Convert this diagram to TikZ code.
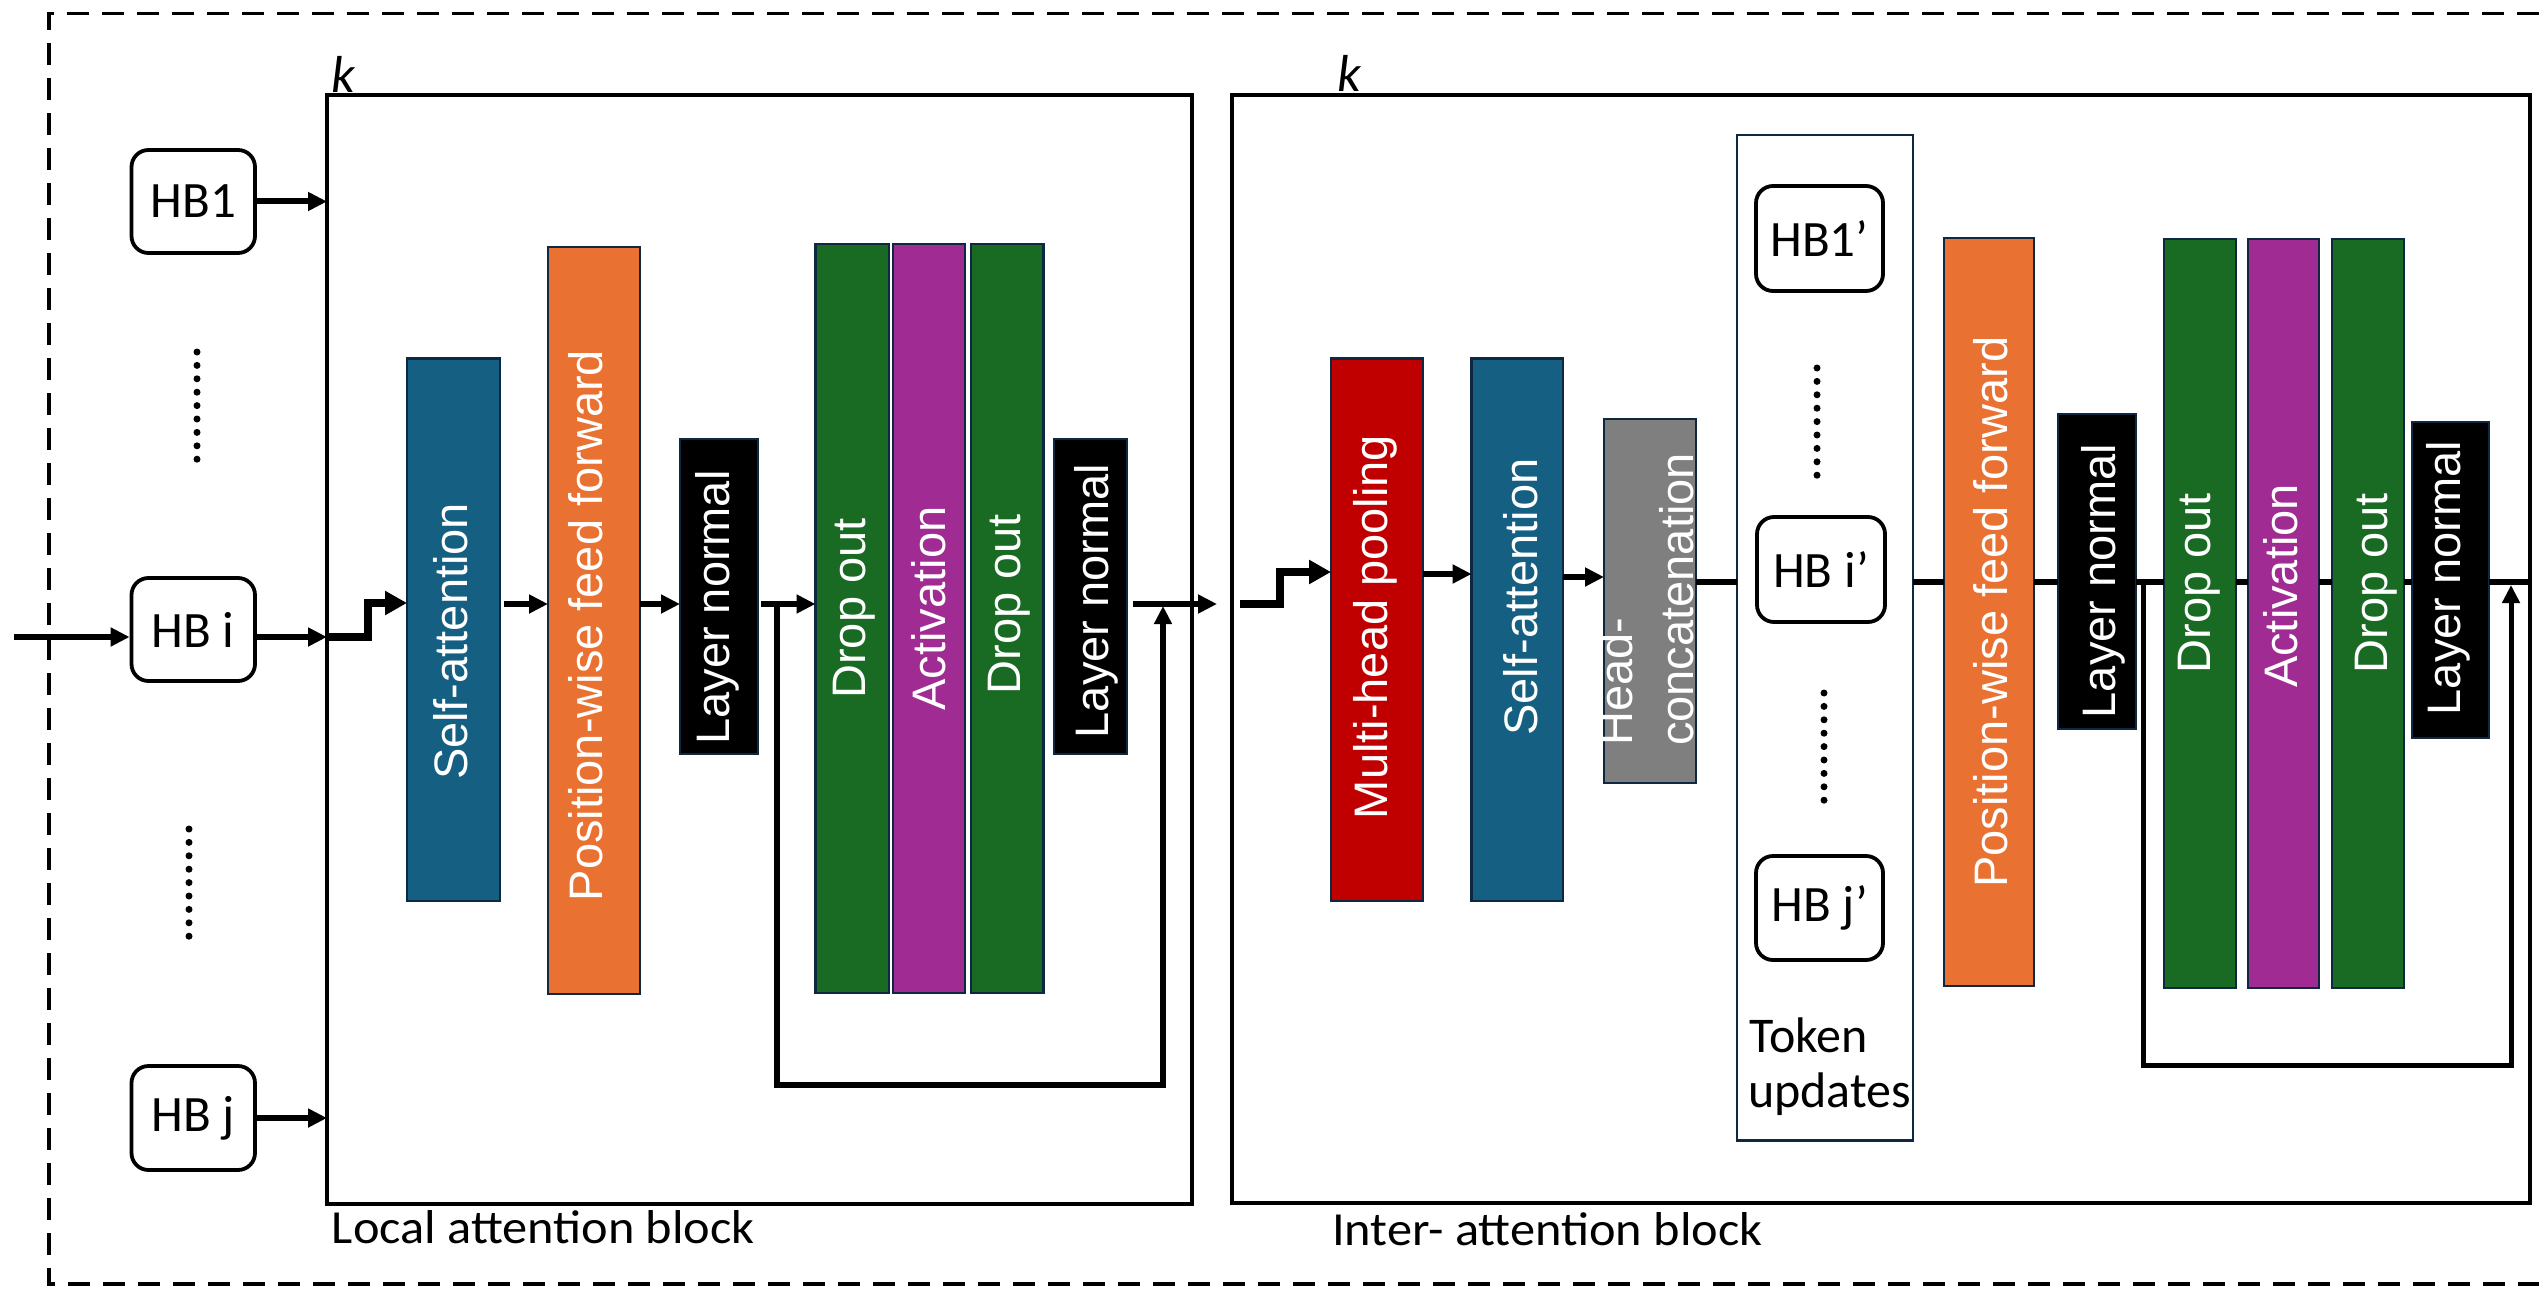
\documentclass[tikz,border=0pt]{standalone}
\usepackage{fontspec}
\usetikzlibrary{arrows.meta}
\newfontfamily\barfont{Liberation Sans}
\newfontfamily\calfont{Carlito}
\newfontfamily\calwide[FakeStretch=1.06]{Carlito}
\definecolor{cblue}{HTML}{156082}
\definecolor{corange}{HTML}{E97132}
\definecolor{cgreen}{HTML}{196B24}
\definecolor{cpurple}{HTML}{A02B93}
\definecolor{cred}{HTML}{C00000}
\definecolor{cgray}{HTML}{7F7F7F}
\definecolor{cnavy}{HTML}{0E2841}
\begin{document}
\begin{tikzpicture}[x=1pt,y=-1pt,
  bar/.style={draw=cnavy, line width=2.5pt, inner sep=0pt, outer sep=0pt},
  bartext/.style={font=\barfont\fontsize{47}{56}\selectfont, text=white, rotate=90, anchor=base, inner sep=0pt},
  bartextw/.style={font=\barfont\fontsize{47}{56}\selectfont, text=white, rotate=90, anchor=base west, inner sep=0pt},
  hbbox/.style={draw=black, line width=3.8pt, rounded corners=17pt, fill=white, inner sep=0pt, font=\calfont\fontsize{51}{60}\selectfont},
  blockbox/.style={draw=black, line width=3.5pt, inner sep=0pt, outer sep=0pt},
  arr/.style={line width=6pt, -{Triangle[length=19pt,width=18pt]}},
  steparr/.style={line width=8.5pt, line join=miter, -{Triangle[length=22pt,width=23pt]}},
  loopline/.style={line width=5.8pt, line join=miter, -{Triangle[length=18pt,width=17pt]}},
  mainline/.style={line width=6pt},
  klabel/.style={font=\calfont\itshape\fontsize{52}{56}\selectfont, inner sep=0pt},
  blocklabel/.style={font=\calwide\fontsize{47.5}{52}\selectfont, anchor=base west, inner sep=0pt},
  toklabel/.style={font=\calfont\fontsize{50}{55}\selectfont, anchor=base west, inner sep=0pt},
]
\useasboundingbox (0,0) rectangle (2539,1289);

% outer dashed frame
\draw[line width=3.2pt, dash pattern=on 22pt off 13pt] (2539,13.4) -- (49,13.4) -- (49,1284) -- (2539,1284);

% blocks
\node[blockbox, minimum width=865pt, minimum height=1109pt] (localb) at (759.5,649.5) {};
\node[blockbox, minimum width=1298pt, minimum height=1108pt] (interb) at (1881,649) {};
\node[klabel] (kL) at (343,74) {k};
\node[klabel] (kI) at (1349.5,73) {k};
\node[blocklabel] (labL) at (331.7,1243) {Local attention block};
\node[blocklabel] (labI) at (1332,1245) {Inter- attention block};

% input tokens
\node[hbbox, minimum width=123.5pt, minimum height=103pt] (hb1) at (193.25,201.5) {HB1};
\node[hbbox, minimum width=123.5pt, minimum height=103pt] (hbi) at (193.25,629.5) {HB i};
\node[hbbox, minimum width=123.5pt, minimum height=104pt] (hbj) at (193.25,1118) {HB j};
\foreach \i in {0,...,8} \fill (197,352+\i*13.4) circle (3.5pt);
\foreach \i in {0,...,8} \fill (189,829+\i*13.4) circle (3.5pt);

% local block bars
\node[bar, fill=cblue, minimum width=93pt, minimum height=542.5pt] (sa) at (453.5,629.75) {};
\node[bar, fill=corange, minimum width=92pt, minimum height=747pt] (pwff) at (594,620.5) {};
\node[bar, fill=black, minimum width=78pt, minimum height=315pt] (ln1) at (719,596.5) {};
\node[bar, fill=cgreen, minimum width=73.5pt, minimum height=749pt] (do1) at (852.25,618.5) {};
\node[bar, fill=cpurple, minimum width=72pt, minimum height=749pt] (act) at (929,618.5) {};
\node[bar, fill=cgreen, minimum width=72.5pt, minimum height=749pt] (do2) at (1007.25,618.5) {};
\node[bar, fill=black, minimum width=73pt, minimum height=315pt] (ln2) at (1090.5,596.5) {};

\node[bartext] (tsa) at (467,641.5) {Self-attention};
\node[bartext] (tpwff) at (602.5,625.5) {Position-wise feed forward};
\node[bartext] (tln1) at (729.5,607.5) {Layer normal};
\node[bartext] (tdo1) at (865,608.5) {Drop out};
\node[bartext] (tact) at (945,608.5) {Activation};
\node[bartext] (tdo2) at (1020,604) {Drop out};
\node[bartext] (tln2) at (1108,601) {Layer normal};

% inter block bars
\node[bar, fill=cred, minimum width=92pt, minimum height=542.5pt] (mhp) at (1377,629.75) {};
\node[bar, fill=cblue, minimum width=91.4pt, minimum height=542.5pt] (sa2) at (1517.3,629.75) {};
\node[bar, fill=cgray, minimum width=92pt, minimum height=364pt] (hc) at (1650,601) {};
\node[bar, fill=white, minimum width=176pt, minimum height=1005.5pt] (tok) at (1825,637.75) {};
\node[bar, fill=corange, minimum width=90pt, minimum height=748pt] (pwff2) at (1989,612) {};
\node[bar, fill=black, minimum width=78pt, minimum height=315pt] (ln3) at (2097,571.5) {};
\node[bar, fill=cgreen, minimum width=72pt, minimum height=749pt] (do3) at (2200,613.5) {};
\node[bar, fill=cpurple, minimum width=71pt, minimum height=749pt] (act2) at (2283.5,613.5) {};
\node[bar, fill=cgreen, minimum width=72pt, minimum height=749pt] (do4) at (2368,613.5) {};
\node[bar, fill=black, minimum width=77pt, minimum height=316pt] (ln4) at (2450.5,580) {};

\node[bartext] (tmhp) at (1387,627) {Multi-head pooling};
\node[bartext] (tsa2) at (1537,597) {Self-attention};
\node[bartextw] (thc1) at (1632,746) {Head-};
\node[bartextw] (thc2) at (1693,746) {concatenation};
\node[bartext] (tpwff2) at (2007,612) {Position-wise feed forward};
\node[bartext] (tln3) at (2115,581) {Layer normal};
\node[bartext] (tdo3) at (2210,583) {Drop out};
\node[bartext] (tact2) at (2297,586) {Activation};
\node[bartext] (tdo4) at (2387,583) {Drop out};
\node[bartext] (tln4) at (2460,578) {Layer normal};

% token updates box content
\node[hbbox, minimum width=127pt, minimum height=105pt] (hb1p) at (1819.5,238.5) {HB1’};
\node[hbbox, minimum width=128pt, minimum height=105pt] (hbip) at (1821,569.5) {HB i’};
\node[hbbox, minimum width=127pt, minimum height=104pt] (hbjp) at (1819.5,908) {HB j’};
\foreach \i in {0,...,8} \fill (1817,368+\i*13.4) circle (3.5pt);
\foreach \i in {0,...,8} \fill (1824,693+\i*13.4) circle (3.5pt);
\node[toklabel] (tokA) at (1749,1052) {Token};
\node[toklabel] (tokB) at (1748,1107) {updates};

% coordinates
\coordinate (inL) at (14,637);
\coordinate (flowL) at (0,604);
\coordinate (stepL) at (0,603);
\coordinate (loopL) at (777,604);
\coordinate (loopLend) at (1163,606);
\coordinate (outL) at (1217,604);
\coordinate (inI) at (1240,604);
\coordinate (stepI) at (0,572);
\coordinate (mainI) at (0,582);
\coordinate (loopI) at (2143.6,580);
\coordinate (loopIend) at (2511,585);

% local connectors
\draw[arr] (inL) -- (hbi.west |- inL);
\draw[arr] (hbi.east |- inL) -- (localb.west |- inL);
\draw[arr] (hb1.east) -- (localb.west |- hb1.east);
\draw[arr] (hbj.east) -- (localb.west |- hbj.east);
\draw[steparr] (localb.west |- inL) -- ++(41,0) |- (sa.west |- stepL);
\draw[arr] ([xshift=4pt]sa.east |- flowL) -- (pwff.west |- flowL);
\draw[arr] (pwff.east |- flowL) -- (ln1.west |- flowL);
\draw[arr] ([xshift=3pt]ln1.east |- flowL) -- (do1.west |- flowL);
\draw[arr] ([xshift=6pt]ln2.east |- flowL) -- (outL);
\draw[loopline] (loopL) -- ++(0,481) -| (loopLend);

% inter connectors
\draw[steparr] (inI) -- ++(40,0) |- (mhp.west |- stepI);
\draw[arr] (mhp.east |- 0,574) -- (sa2.west |- 0,574);
\draw[arr] (sa2.east |- 0,577) -- (hc.west |- 0,577);
\draw[mainline] (hc.east |- mainI) -- (tok.west |- mainI);
\draw[mainline] (tok.east |- mainI) -- (pwff2.west |- mainI);
\draw[mainline] (pwff2.east |- mainI) -- (ln3.west |- mainI);
\draw[mainline] (ln3.east |- mainI) -- (do3.west |- mainI);
\draw[mainline] (do3.east |- mainI) -- (act2.west |- mainI);
\draw[mainline] (act2.east |- mainI) -- (do4.west |- mainI);
\draw[mainline] (do4.east |- mainI) -- (ln4.west |- mainI);
\draw[mainline] (ln4.east |- mainI) -- (interb.east |- mainI);
\draw[loopline, line width=5pt] (loopI) -- ++(0,485) -| (loopIend);
\end{tikzpicture}
\end{document}
